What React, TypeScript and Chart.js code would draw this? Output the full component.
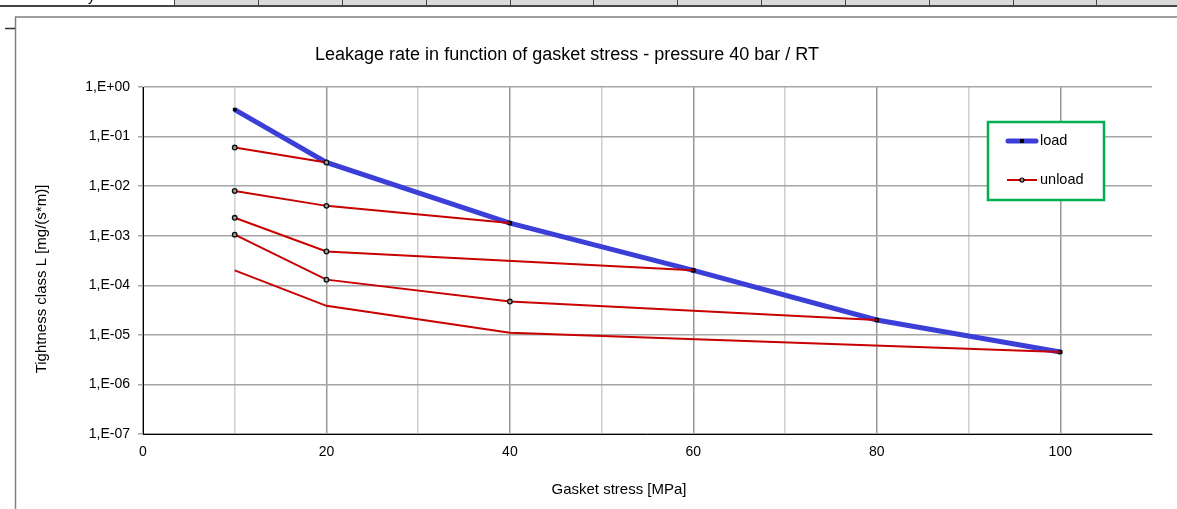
import { useEffect, useRef } from 'react';
import { Chart, registerables } from 'chart.js';

Chart.register(...registerables);

const chartTitle = 'Leakage rate in function of gasket stress - pressure 40 bar / RT';
const xAxisTitle = 'Gasket stress [MPa]';
const yAxisTitle = 'Tightness class L [mg/(s*m)]';
const legendLabels = ['load', 'unload'];

const loadX = [10, 20, 40, 60, 80, 100];
const loadY = [0.35, 0.03, 0.0018, 0.0002, 0.00002, 0.0000045];

const unload1X = [10, 20];
const unload1Y = [0.06, 0.03];
const unload2X = [10, 20, 40];
const unload2Y = [0.008, 0.004, 0.0018];
const unload3X = [10, 20, 60];
const unload3Y = [0.0023, 0.00048, 0.0002];
const unload4X = [10, 20, 40, 80];
const unload4Y = [0.00105, 0.00013, 0.000047, 0.00002];
const unload5X = [10, 20, 40, 100];
const unload5Y = [0.0002, 0.0000385, 0.000011, 0.0000045];

const yTickValues = [1, 1e-1, 1e-2, 1e-3, 1e-4, 1e-5, 1e-6, 1e-7];
const xLabelTicks = [0, 20, 40, 60, 80, 100];

const FONT = '"Liberation Sans", Arial, sans-serif';
const BLUE = '#3b3fd8';
const RED = '#c80000';

const pts = (xs: number[], ys: number[]) => xs.map((x, i) => ({ x, y: ys[i] }));

const fmtExp = (v: number) => {
  const e = Math.round(Math.log10(v));
  const sign = e >= 0 ? '+' : '-';
  const a = Math.abs(e);
  return '1,E' + sign + (a < 10 ? '0' + a : String(a));
};

const decorPlugin = {
  id: 'decor',
  beforeDraw(chart: any) {
    const ctx = chart.ctx;
    ctx.save();
    ctx.fillStyle = '#ffffff';
    ctx.fillRect(0, 0, chart.width, chart.height);
    // table row fragment at top
    ctx.fillStyle = '#d9d9d9';
    ctx.fillRect(174, 0, 1177 - 174, 5);
    ctx.strokeStyle = '#444';
    ctx.lineWidth = 1;
    const cellEdges = [174, 258, 342, 426, 510, 593, 677, 761, 845, 929, 1013, 1096];
    ctx.beginPath();
    cellEdges.forEach((x) => {
      ctx.moveTo(x + 0.5, 0);
      ctx.lineTo(x + 0.5, 6);
    });
    ctx.stroke();
    ctx.lineWidth = 2;
    ctx.beginPath();
    ctx.moveTo(0, 6);
    ctx.lineTo(1177, 6);
    ctx.stroke();
    ctx.save();
    ctx.beginPath();
    ctx.rect(0, 0, 174, 5);
    ctx.clip();
    ctx.fillStyle = '#000';
    ctx.font = '14px ' + FONT;
    ctx.textAlign = 'left';
    ctx.textBaseline = 'alphabetic';
    ctx.fillText('y', 88, 1);
    ctx.restore();
    // frame
    ctx.strokeStyle = '#7f7f7f';
    ctx.lineWidth = 1.5;
    ctx.beginPath();
    ctx.moveTo(15.5, 509);
    ctx.lineTo(15.5, 17);
    ctx.lineTo(1177, 17);
    ctx.stroke();
    ctx.strokeStyle = '#333';
    ctx.lineWidth = 1.5;
    ctx.beginPath();
    ctx.moveTo(5, 28.5);
    ctx.lineTo(15, 28.5);
    ctx.stroke();
    ctx.restore();
  },
  afterDraw(chart: any) {
    const ctx = chart.ctx;
    ctx.save();
    ctx.fillStyle = '#000';
    ctx.textAlign = 'center';
    ctx.textBaseline = 'middle';
    ctx.font = '18px ' + FONT;
    ctx.fillText(chartTitle, 567, 55);
    ctx.font = '15px ' + FONT;
    ctx.fillText(xAxisTitle, 619, 490);
    ctx.save();
    ctx.translate(42, 279);
    ctx.rotate(-Math.PI / 2);
    ctx.fillText(yAxisTitle, 0, 0);
    ctx.restore();

    // legend
    ctx.fillStyle = '#fff';
    ctx.fillRect(988, 122, 116, 78);
    ctx.strokeStyle = '#00b050';
    ctx.lineWidth = 2.5;
    ctx.strokeRect(988, 122, 116, 78);
    ctx.lineCap = 'round';
    ctx.strokeStyle = BLUE;
    ctx.lineWidth = 5;
    ctx.beginPath();
    ctx.moveTo(1008, 141);
    ctx.lineTo(1036, 141);
    ctx.stroke();
    ctx.fillStyle = '#000';
    ctx.fillRect(1020, 139, 4, 4);
    ctx.lineCap = 'butt';
    ctx.strokeStyle = RED;
    ctx.lineWidth = 2;
    ctx.beginPath();
    ctx.moveTo(1007, 180);
    ctx.lineTo(1037, 180);
    ctx.stroke();
    ctx.beginPath();
    ctx.arc(1022, 180, 2, 0, Math.PI * 2);
    ctx.fillStyle = '#999';
    ctx.fill();
    ctx.strokeStyle = '#000';
    ctx.lineWidth = 1.2;
    ctx.stroke();
    ctx.fillStyle = '#000';
    ctx.textAlign = 'left';
    ctx.font = '14.5px ' + FONT;
    ctx.fillText(legendLabels[0], 1040, 141);
    ctx.fillText(legendLabels[1], 1040, 180);
    ctx.restore();
  },
};

const unloadDs = (xs: number[], ys: number[], radii: number[]) => ({
  label: 'unload',
  data: pts(xs, ys),
  borderColor: RED,
  borderWidth: 2,
  pointStyle: 'circle',
  pointRadius: radii,
  pointBorderColor: '#111',
  pointBorderWidth: 1.3,
  pointBackgroundColor: '#9a9a9a',
  tension: 0,
});

export default function App() {
  const ref = useRef<HTMLCanvasElement>(null);
  useEffect(() => {
    const canvas = ref.current!;
    const chart = new Chart(canvas, {
      type: 'line',
      data: {
        datasets: [
          unloadDs(unload1X, unload1Y, [2.3, 2.3]),
          unloadDs(unload2X, unload2Y, [2.3, 2.3, 0]),
          unloadDs(unload3X, unload3Y, [2.3, 2.3, 0]),
          unloadDs(unload4X, unload4Y, [2.3, 2.3, 2.3, 0]),
          unloadDs(unload5X, unload5Y, [0, 0, 0, 0]),
          {
            label: 'load',
            data: pts(loadX, loadY),
            borderColor: BLUE,
            borderWidth: 5,
            pointStyle: 'rect',
            pointRadius: [2, 0, 2.5, 2.5, 2.5, 2.5],
            pointBorderColor: '#000',
            pointBorderWidth: 1,
            pointBackgroundColor: '#000',
            tension: 0,
          } as any,
        ] as any,
      },
      options: {
        responsive: false,
        animation: false,
        devicePixelRatio: 1,
        layout: { padding: { left: 0, top: 87, right: 25, bottom: 0 } },
        plugins: {
          legend: { display: false },
          title: { display: false },
          tooltip: { enabled: false },
        },
        scales: {
          x: {
            type: 'linear',
            min: 0,
            max: 110,
            afterFit: (s: any) => {
              s.height = 75;
            },
            ticks: {
              stepSize: 10,
              autoSkip: false,
              maxRotation: 0,
              padding: 10,
              color: '#000',
              font: { family: FONT, size: 14 },
              callback: (v: any) => (xLabelTicks.includes(Number(v)) ? String(v) : ''),
            },
            grid: {
              drawTicks: false,
              color: (c: any) => {
                const v = c.tick?.value;
                if (v === 110) return 'rgba(0,0,0,0)';
                return v % 20 === 0 ? '#999999' : '#cfcfcf';
              },
              lineWidth: 1.5,
            },
            border: { color: '#000', width: 1 },
          },
          y: {
            type: 'logarithmic',
            min: 1e-7,
            max: 1,
            afterFit: (s: any) => {
              s.width = 143;
            },
            afterBuildTicks: (s: any) => {
              s.ticks = yTickValues.map((v) => ({ value: v }));
            },
            ticks: {
              autoSkip: false,
              padding: 8,
              color: '#000',
              font: { family: FONT, size: 14 },
              callback: (v: any) => fmtExp(Number(v)),
            },
            grid: { color: '#a6a6a6', tickLength: 5, lineWidth: 1.5 },
            border: { color: '#000', width: 1 },
          },
        },
      } as any,
      plugins: [decorPlugin],
    });
    return () => chart.destroy();
  }, []);
  return (
    <div style={{ position: 'fixed', left: 0, top: 0, width: 1177, height: 509 }}>
      <canvas ref={ref} width={1177} height={509} style={{ display: 'block', width: 1177, height: 509 }} />
    </div>
  );
}
